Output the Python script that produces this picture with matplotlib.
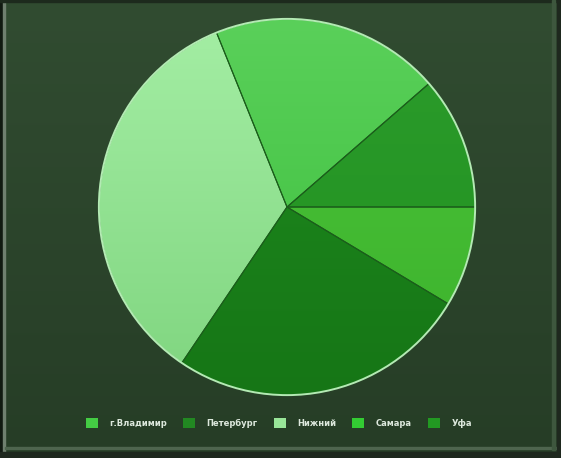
import numpy as np
import matplotlib.pyplot as plt
from matplotlib.patches import Rectangle, Patch
from matplotlib.colors import LinearSegmentedColormap

# ---data--- #
cities = ['г.Владимир', 'Петербург', 'Нижний', 'Самара', 'Уфа']
values = [31, 93, 124, 71, 41]
top_colors = ['#4cc43a', '#1f8c1f', '#a4eea4', '#5ad05a', '#2c9c2c']
bot_colors = ['#3cb22c', '#167616', '#7fd57f', '#3cbe3c', '#20901f']
legend_colors = ['#44cc44', '#228822', '#99e699', '#33cc33', '#229922']

W, H = 561, 458
fig = plt.figure(figsize=(W / 100, H / 100), dpi=100)

# ---background panel--- #
bg = fig.add_axes([0, 0, 1, 1])
bg.set_xlim(0, W)
bg.set_ylim(H, 0)
bg.axis('off')
grad = np.linspace(0, 1, 256).reshape(-1, 1)
bg_cmap = LinearSegmentedColormap.from_list('bg', ['#314c31', '#263d26'])
bg.imshow(grad, cmap=bg_cmap, extent=[0, W, H, 0], aspect='auto')
bg.add_patch(Rectangle((0, 0), 3, H, color='#111a11'))
bg.add_patch(Rectangle((3, 0), 2, H, color='#6f806f'))
bg.add_patch(Rectangle((0, 0), W, 2, color='#1d2a1d'))
bg.add_patch(Rectangle((5, 447), W - 8, 2, color='#4e654e'))
bg.add_patch(Rectangle((0, 452), W, 6, color='#1e281e'))
bg.add_patch(Rectangle((552, 0), 3, 450, color='#3e573e'))
bg.add_patch(Rectangle((557, 0), 4, H, color='#1e281e'))

# ---pie--- #
cx, cy, r = 287, 207, 190
ax = fig.add_axes([(cx - r) / W, (H - cy - r) / H, 2 * r / W, 2 * r / H])
wedges, _ = ax.pie(values, startangle=0, counterclock=False,
                   colors=bot_colors,
                   wedgeprops=dict(edgecolor='#1b5e1b', linewidth=0.8))
ax.set_xlim(-1.01, 1.01)
ax.set_ylim(-1.01, 1.01)
ax.axis('off')

for w, ct, cb in zip(wedges, top_colors, bot_colors):
    cm = LinearSegmentedColormap.from_list('w', [ct, cb])
    im = ax.imshow(grad, cmap=cm, extent=[-1, 1, -1, 1], aspect='auto',
                   zorder=w.get_zorder())
    im.set_clip_path(w)
    w.set_facecolor('none')
    w.set_zorder(w.get_zorder() + 0.5)

outline = plt.Circle((0, 0), 1, fill=False, edgecolor='#b4eab4',
                     linewidth=1.4, zorder=5)
ax.add_patch(outline)

# ---legend--- #
handles = [Patch(facecolor=c, edgecolor='none') for c in legend_colors]
leg = fig.legend(handles, cities, loc='center', ncol=5,
                 bbox_to_anchor=(0.497, 1 - 423 / H), frameon=False,
                 prop=dict(size=6, weight='bold'),
                 handlelength=1.45, handleheight=1.45,
                 handletextpad=1.4, columnspacing=1.9)
for t in leg.get_texts():
    t.set_color('#dde8dd')

plt.savefig('out.png', dpi=100)
